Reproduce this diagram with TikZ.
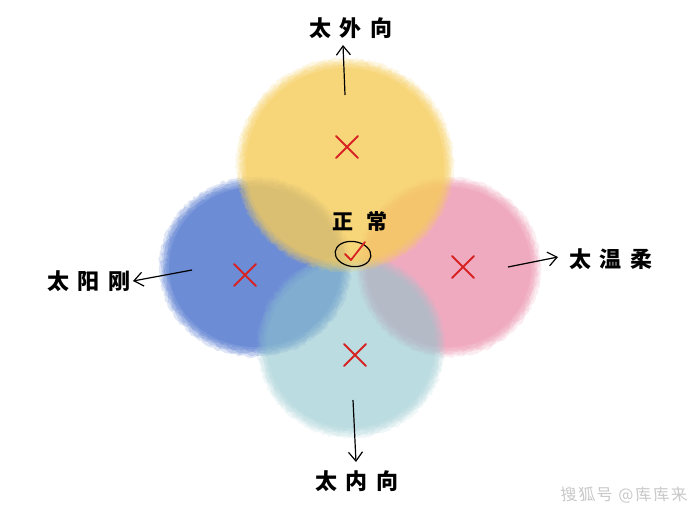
\documentclass[tikz,border=0pt]{standalone}
\usepackage{fontspec}
\newfontfamily\cjk{Noto Sans CJK SC}
\usetikzlibrary{arrows.meta,shapes.geometric,decorations.pathmorphing}
\definecolor{cblue}{RGB}{108,140,214}
\definecolor{cpink}{RGB}{240,170,192}
\definecolor{cteal}{RGB}{143,197,205}
\definecolor{cyel}{RGB}{246,204,89}
\definecolor{cred}{RGB}{215,35,35}
\definecolor{cwm}{RGB}{200,200,200}
\pgfmathsetseed{7}
\tikzset{
  x=1pt, y=-1pt,
  rough/.style={decorate, decoration={random steps, segment length=2.5pt, amplitude=1.2pt}},
  lbl/.style={font=\cjk\bfseries\fontsize{22}{22}\selectfont\addfontfeature{LetterSpace=38}, text=black, inner sep=0pt},
  arr/.style={-{Straight Barb[length=9pt,width=14pt]}, line width=1.2pt, black},
  redmark/.style={draw=cred, line width=1.8pt, line cap=round},
  xmark/.pic={\draw[redmark] (-11,-11) -- (11,11) (11,-11) -- (-11,11);}
}
% colour, cx, cy, rx, ry, group opacity
\newcommand\softblob[6]{%
  \begin{scope}[transparency group, opacity=#6]
    \foreach \d/\o in {6/0.22,4/0.28,2/0.34,0/0.42,-2/0.5} {
      \fill[#1, fill opacity=\o, rough] (#2,#3) ellipse [x radius=#4+\d, y radius=#5+\d];
    }
    \fill[#1] (#2,#3) ellipse [x radius=#4-4, y radius=#5-4];
  \end{scope}}
\begin{document}
\begin{tikzpicture}
\fill[white] (0,0) rectangle (700,512);
\useasboundingbox (0,0) rectangle (700,512);
% watercolor blobs
\softblob{cblue}{255}{267}{90}{84}{1}
\softblob{cpink}{449}{267}{86}{84}{1}
\softblob{cteal}{351}{346}{88}{86}{0.6}
\softblob{cyel}{345}{165}{103}{101}{0.8}
% red crosses
\pic (xy) at (347,147) {xmark};
\pic (xb) at (245,275) {xmark};
\pic (xp) at (463,267) {xmark};
\pic (xt) at (355,355) {xmark};
% centre
\node[lbl, font=\cjk\bfseries\fontsize{21}{21}\selectfont\addfontfeature{LetterSpace=65}] (normal) at (360,222) {正常};
\node[draw=black, line width=1.2pt, ellipse, minimum width=36pt, minimum height=25pt, inner sep=0pt, rotate=-8] (ring) at (353,254) {};
\coordinate (c1) at (345,254);
\coordinate (c2) at (351,260);
\coordinate (c3) at (365,242);
\draw[redmark, line join=round] (c1) -- (c2) -- (c3);
% labels
\node[lbl] (top) at (351,28) {太外向};
\node[lbl] (left) at (89,281) {太阳刚};
\node[lbl] (right) at (611,259) {太温柔};
\node[lbl] (bottom) at (357,481) {太内向};
% arrows
\coordinate (ts) at (345,95);  \coordinate (te) at (343,45);
\coordinate (ls) at (192,270); \coordinate (le) at (133,281);
\coordinate (rs) at (508,267); \coordinate (re) at (558,257);
\coordinate (bs) at (353,400); \coordinate (be) at (356,462);
\draw[arr] (ts) -- (te);
\draw[arr] (ls) -- (le);
\draw[arr] (rs) -- (re);
\draw[arr] (bs) -- (be);
% watermark
\node[font=\cjk\fontsize{16}{16}\selectfont\addfontfeature{LetterSpace=12}, text=cwm, inner sep=0pt, xslant=-0.15] (wm) at (624,495) {搜狐号 @库库来};
\end{tikzpicture}
\end{document}
